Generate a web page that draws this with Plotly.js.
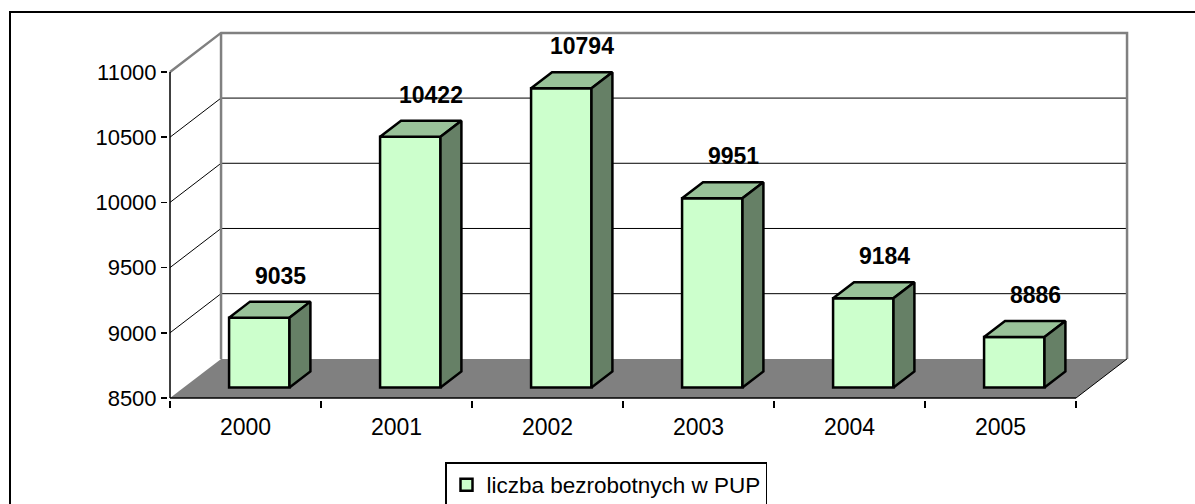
<!DOCTYPE html>
<html>
<head>
<meta charset="utf-8">
<script src="https://cdn.plot.ly/plotly-3.0.1.min.js"></script>
<style>
  html, body { margin: 0; padding: 0; background: #ffffff; }
  #chart { width: 1195px; height: 504px; }
</style>
</head>
<body>
<div id="chart"></div>
<script>
// ---- data ----
const years = ['2000', '2001', '2002', '2003', '2004', '2005'];
const values = [9035, 10422, 10794, 9951, 9184, 8886];
const yTicks = [8500, 9000, 9500, 10000, 10500, 11000];
const seriesName = 'liczba bezrobotnych w PUP';

// ---- style / geometry ----
const FONT = 'Arial, "Liberation Sans", sans-serif';
const FRONT = '#CCFFCC', TOP = '#99C299', SIDE = '#668066';
const WALL = '#808080';
const yMin = yTicks[0], yMax = yTicks[yTicks.length - 1];
const n = years.length;
const DX = 0.338;      // depth shift in category units
const DY = 300;        // depth shift in value units
const W = 0.4;         // bar width (categories)
const F0 = 0.27, F1 = 0.68; // bar front/back depth fractions
const OUT = 2.5;       // bar outline width

// pixel calibration of the plot area
const M = { l: 168, r: 65, t: 31, b: 104, autoexpand: false };
const plotW = 1195 - M.l - M.r, plotH = 504 - M.t - M.b;
const ux = 151;                    // px per category
const uy = 326 / (yMax - yMin);    // px per value unit
const xLo = -0.5 - 2 / ux;
const xHi = xLo + plotW / ux;
const yLo = yMin - (504 - M.b - 398) / uy;
const yHi = yLo + plotH / uy;

const xs = years.map((_, i) => i);
const traces = [];

// front faces
traces.push({
  type: 'bar',
  name: seriesName,
  x: xs,
  y: values.map(v => v - yMin),
  base: yMin + F0 * DY,
  width: W,
  offset: -W / 2 + F0 * DX,
  marker: { color: FRONT, line: { color: '#000000', width: OUT } },
  hoverinfo: 'skip',
  showlegend: true
});

// top & side faces
values.forEach((v, i) => {
  const xl0 = i - W / 2 + F0 * DX, xr0 = i + W / 2 + F0 * DX;
  const xl1 = i - W / 2 + F1 * DX, xr1 = i + W / 2 + F1 * DX;
  const yf = v + F0 * DY, yb = v + F1 * DY;
  const b0 = yMin + F0 * DY, b1 = yMin + F1 * DY;
  traces.push({
    type: 'scatter', mode: 'lines', fill: 'toself', fillcolor: TOP,
    x: [xl0, xr0, xr1, xl1, xl0], y: [yf, yf, yb, yb, yf],
    line: { color: '#000000', width: OUT }, showlegend: false, hoverinfo: 'skip'
  });
  traces.push({
    type: 'scatter', mode: 'lines', fill: 'toself', fillcolor: SIDE,
    x: [xr0, xr1, xr1, xr0, xr0], y: [b0, b1, yb, yf, b0],
    line: { color: '#000000', width: OUT }, showlegend: false, hoverinfo: 'skip'
  });
});

// ---- shapes (walls, floor, gridlines, axes) ----
const xF0 = -0.5, xF1 = n - 0.5;
const shapes = [];
const P = (pts) => 'M' + pts.map(p => p[0] + ',' + p[1]).join('L');
// floor
shapes.push({
  type: 'path', xref: 'x', yref: 'y', layer: 'below',
  path: P([[xF0, yMin], [xF1, yMin], [xF1 + DX, yMin + DY], [xF0 + DX, yMin + DY]]) + 'Z',
  fillcolor: WALL, line: { width: 0 }
});
// gridlines
yTicks.slice(1, -1).forEach(g => {
  shapes.push({
    type: 'path', xref: 'x', yref: 'y', layer: 'below',
    path: P([[xF0, g], [xF0 + DX, g + DY], [xF1 + DX, g + DY]]),
    line: { color: '#000000', width: 1 }
  });
});
// wall edges (grey)
shapes.push({
  type: 'path', xref: 'x', yref: 'y', layer: 'below',
  path: P([[xF0, yMax], [xF0 + DX, yMax + DY], [xF1 + DX, yMax + DY], [xF1 + DX, yMin + DY]]),
  line: { color: WALL, width: 2.5 }
});
shapes.push({
  type: 'path', xref: 'x', yref: 'y', layer: 'below',
  path: P([[xF0 + DX, yMin + DY], [xF0 + DX, yMax + DY]]),
  line: { color: WALL, width: 2.5 }
});
// floor right edge
shapes.push({
  type: 'path', xref: 'x', yref: 'y', layer: 'below',
  path: P([[xF1, yMin], [xF1 + DX, yMin + DY]]),
  line: { color: '#000000', width: 1 }
});
// front axes
shapes.push({
  type: 'path', xref: 'x', yref: 'y', layer: 'below',
  path: P([[xF0, yMin], [xF0, yMax]]),
  line: { color: '#000000', width: 1.5 }
});
shapes.push({
  type: 'path', xref: 'x', yref: 'y', layer: 'below',
  path: P([[xF0, yMin], [xF1, yMin]]),
  line: { color: '#000000', width: 1.5 }
});
// outer chart border
shapes.push({
  type: 'rect', xref: 'paper', yref: 'paper', layer: 'above',
  x0: (10 - M.l) / plotW, x1: (1205 - M.l) / plotW,
  y0: (504 - M.b - 515) / plotH, y1: (504 - M.b - 12) / plotH,
  line: { color: '#000000', width: 2 }, fillcolor: 'rgba(0,0,0,0)'
});

// data labels
const annotations = values.map((v, i) => ({
  x: i + F1 * DX, y: v + F1 * DY, xref: 'x', yref: 'y',
  text: '<b>' + String(v) + '</b>', showarrow: false, yanchor: 'middle', xanchor: 'center',
  yshift: 26, font: { family: FONT, size: 23, color: '#000000' }
}));

const layout = {
  width: 1195, height: 504,
  margin: M,
  paper_bgcolor: '#ffffff', plot_bgcolor: 'rgba(0,0,0,0)',
  font: { family: FONT, size: 22, color: '#000000' },
  showlegend: true,
  legend: {
    x: (606 - M.l) / plotW, xanchor: 'center',
    y: (504 - M.b - 485) / plotH, yanchor: 'middle',
    orientation: 'h',
    bgcolor: '#ffffff', bordercolor: '#000000', borderwidth: 1.5,
    font: { family: FONT, size: 22.5, color: '#000000' },
    itemwidth: 30
  },
  xaxis: {
    type: 'linear', range: [xLo, xHi], fixedrange: true,
    tickvals: xs, ticktext: years, ticks: '',
    ticklabelstandoff: 11,
    showgrid: false, zeroline: false, showline: false,
    minor: {
      tickvals: xs.map(i => i - 0.5).concat([n - 0.5]),
      ticks: 'outside', ticklen: 7, tickwidth: 1.5, tickcolor: '#000000', showgrid: false
    },
    tickfont: { family: FONT, size: 23, color: '#000000' }
  },
  yaxis: {
    type: 'linear', range: [yLo, yHi], fixedrange: true,
    tickvals: yTicks, ticktext: yTicks.map(String),
    ticks: 'outside', ticklen: 6, tickwidth: 1.5, tickcolor: '#000000',
    showgrid: false, zeroline: false, showline: false,
    tickfont: { family: FONT, size: 22, color: '#000000' }
  },
  bargap: 0,
  shapes: shapes,
  annotations: annotations
};

Plotly.newPlot('chart', traces, layout, { staticPlot: true, displayModeBar: false });
</script>
</body>
</html>
